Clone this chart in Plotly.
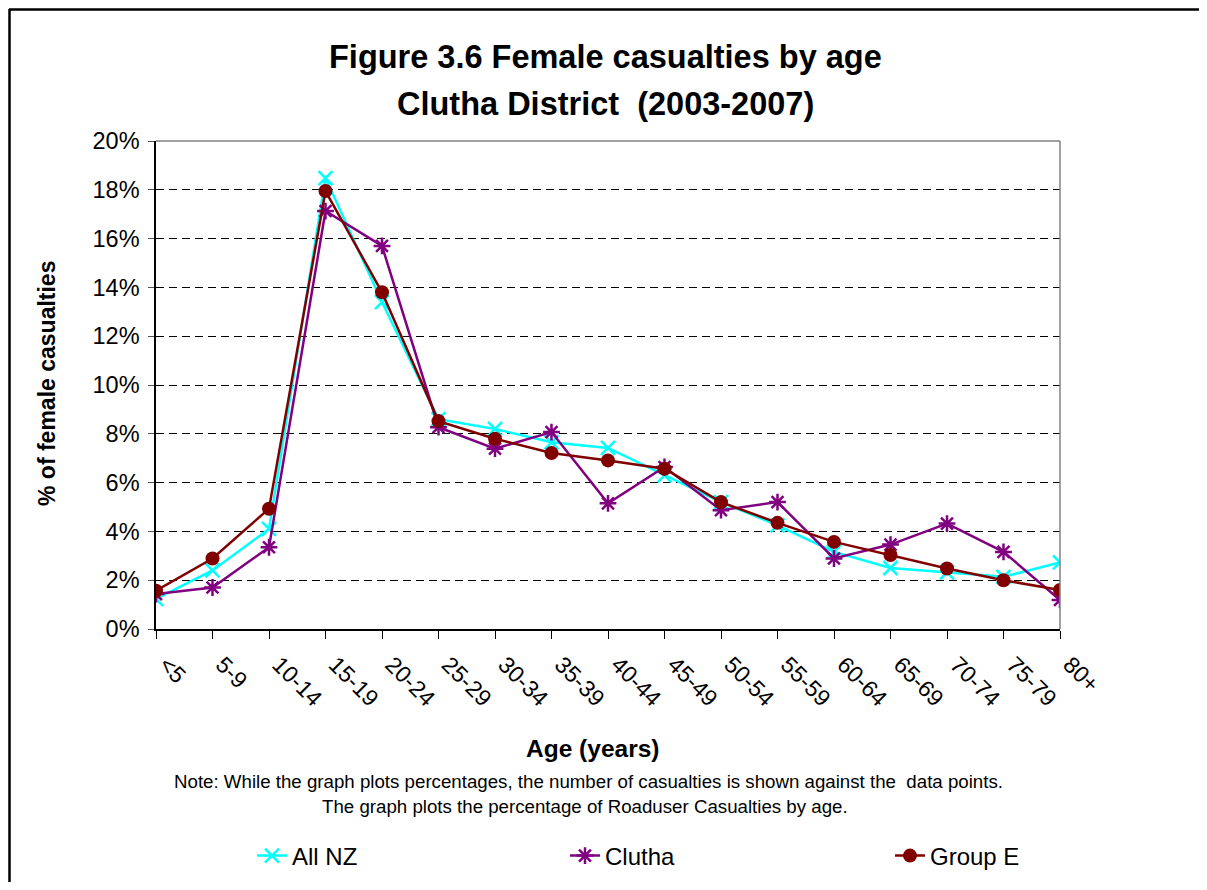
import plotly.graph_objects as go

ages = ["<5", "5-9", "10-14", "15-19", "20-24", "25-29", "30-34", "35-39", "40-44",
        "45-49", "50-54", "55-59", "60-64", "65-69", "70-74", "75-79", "80+"]
all_nz = [1.23, 2.4, 4.1, 18.48, 13.4, 8.6, 8.2, 7.65, 7.42, 6.3, 5.2, 4.25, 3.16, 2.5, 2.32, 2.14, 2.73]
clutha = [1.43, 1.7, 3.35, 17.13, 15.7, 8.27, 7.39, 8.07, 5.15, 6.64, 4.87, 5.2, 2.89, 3.46, 4.32, 3.16, 1.19]
group_e = [1.57, 2.89, 4.93, 17.95, 13.8, 8.52, 7.8, 7.21, 6.91, 6.57, 5.2, 4.35, 3.57, 3.03, 2.48, 2.0, 1.6]

y_ticks = [0, 2, 4, 6, 8, 10, 12, 14, 16, 18, 20]
y_tick_text = [f"{v}%" for v in y_ticks]

FONT = "Arial, Liberation Sans, sans-serif"
# page body has an 8px margin; the figure is sized so the page fits the window
OFF = 8
W, H = 1207 - 2 * OFF, 890 - 2 * OFF
PL, PT, PR, PB = 156, 141, 1060, 629  # plot area in window pixels
L, T = PL - OFF, PT - OFF
R, B = W - (PR - OFF), H - (PB - OFF)
PW, PH = PR - PL, PB - PT


def px(x):
    return (x - PL) / PW


def py(y):
    return (PB - y) / PH


fig = go.Figure()
fig.add_trace(go.Scatter(
    x=ages, y=all_nz, name="All NZ", mode="lines+markers", legend="legend",
    line=dict(color="#00FFFF", width=2.5),
    marker=dict(symbol="x-thin", size=14, line=dict(color="#00FFFF", width=2.5), color="#00FFFF"),
))
fig.add_trace(go.Scatter(
    x=ages, y=clutha, name="Clutha", mode="lines+markers", legend="legend2",
    line=dict(color="#800080", width=2.5),
    marker=dict(symbol="asterisk", size=14, line=dict(color="#800080", width=2.5), color="#800080"),
))
fig.add_trace(go.Scatter(
    x=ages, y=group_e, name="Group E", mode="lines+markers", legend="legend3",
    line=dict(color="#800000", width=2.5),
    marker=dict(symbol="circle", size=14, color="#800000"),
))


def leg(xpix):
    return dict(orientation="h", x=px(xpix), y=py(856), xanchor="left", yanchor="middle",
                font=dict(size=24, family=FONT), bgcolor="rgba(0,0,0,0)")


fig.update_layout(
    width=W, height=H,
    margin=dict(l=L, r=R, t=T, b=B, autoexpand=False),
    paper_bgcolor="white", plot_bgcolor="white",
    font=dict(family=FONT, color="black", size=22),
    showlegend=True,
    legend=leg(252), legend2=leg(565), legend3=leg(890),
    xaxis=dict(
        type="category", range=[0, len(ages) - 1],
        showline=True, linecolor="black", linewidth=2,
        ticks="outside", ticklen=8, tickcolor="black", tickwidth=1,
        tickangle=45, tickfont=dict(size=23, family=FONT),
        ticklabelshift=10, ticklabelstandoff=3,
        showgrid=False, zeroline=False,
    ),
    yaxis=dict(
        range=[0, 20], tickvals=y_ticks, ticktext=y_tick_text,
        showline=True, linecolor="black", linewidth=1.5,
        ticks="outside", ticklen=6, tickcolor="#555555", tickwidth=1,
        tickfont=dict(size=23.5, family=FONT), ticklabelstandoff=4,
        showgrid=True, gridcolor="black", gridwidth=1, griddash="8px,5px",
        zeroline=False,
    ),
    shapes=[
        dict(type="line", xref="paper", yref="paper", x0=0, x1=1, y0=1, y1=1,
             line=dict(color="#808080", width=1.5)),
        dict(type="line", xref="paper", yref="paper", x0=1, x1=1, y0=0, y1=1,
             line=dict(color="#808080", width=1.5)),
        dict(type="line", xref="paper", yref="paper", x0=px(9.5), x1=px(9.5), y0=py(9), y1=py(900),
             line=dict(color="black", width=2.5)),
        dict(type="line", xref="paper", yref="paper", x0=px(9), x1=px(1210), y0=py(9.5), y1=py(9.5),
             line=dict(color="black", width=2.5)),
    ],
    annotations=[
        dict(text="<b>Figure 3.6 Female casualties by age</b>", xref="paper", yref="paper",
             x=px(605), y=py(57), xanchor="center", yanchor="middle", showarrow=False,
             font=dict(size=32.5, family=FONT)),
        dict(text="<b>Clutha District  (2003-2007)</b>", xref="paper", yref="paper",
             x=px(605), y=py(104), xanchor="center", yanchor="middle", showarrow=False,
             font=dict(size=32.5, family=FONT)),
        dict(text="<b>% of female casualties</b>", xref="paper", yref="paper",
             x=px(47), y=py(384), xanchor="center", yanchor="middle", showarrow=False,
             textangle=-90, font=dict(size=23, family=FONT)),
        dict(text="<b>Age (years)</b>", xref="paper", yref="paper",
             x=px(592), y=py(748), xanchor="center", yanchor="middle", showarrow=False,
             font=dict(size=24.5, family=FONT)),
        dict(text="Note: While the graph plots percentages, the number of casualties is shown against the  data points.",
             xref="paper", yref="paper",
             x=px(588), y=py(782), xanchor="center", yanchor="middle", showarrow=False,
             font=dict(size=18.7, family=FONT)),
        dict(text="The graph plots the percentage of Roaduser Casualties by age.",
             xref="paper", yref="paper",
             x=px(585), y=py(806), xanchor="center", yanchor="middle", showarrow=False,
             font=dict(size=18.7, family=FONT)),
    ],
)

fig.write_html("out.html")
